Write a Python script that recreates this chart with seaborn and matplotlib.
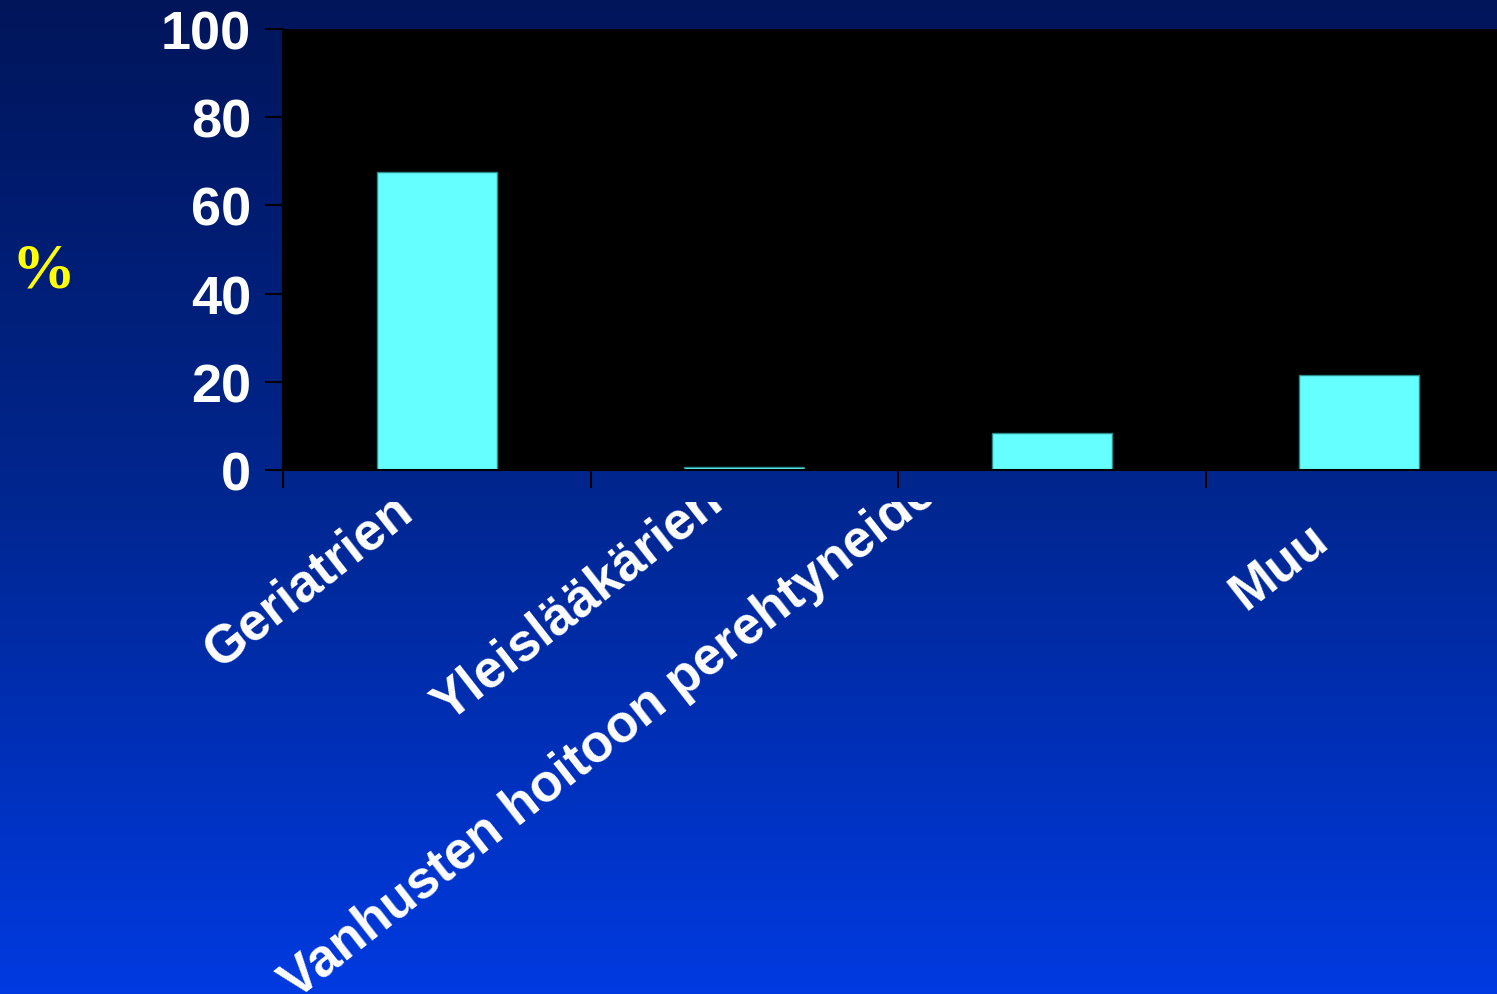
import numpy as np
import pandas as pd
import matplotlib
matplotlib.use("Agg")
import matplotlib.pyplot as plt
import seaborn as sns
from matplotlib.colors import LinearSegmentedColormap
from matplotlib.transforms import Bbox, TransformedBbox

# ---- data ----
categories = ["Geriatrien", "Yleislääkärien", "Vanhusten hoitoon perehtyneiden", "Muu"]
values = [67.6, 0.6, 8.4, 21.5]
y_ticks = [0, 20, 40, 60, 80, 100]
y_label = "%"

sns.set_theme(style="white")
plt.rcParams["font.family"] = ["Liberation Sans", "DejaVu Sans"]

W, H = 1497, 995
fig = plt.figure(figsize=(W / 100, H / 100), dpi=100)

# gradient background
bg = fig.add_axes([0, 0, 1, 1], zorder=-10)
cmap = LinearSegmentedColormap.from_list("bg", ["#00155a", "#00268f", "#003ae0"])
grad = np.linspace(0, 1, 256).reshape(-1, 1)
bg.imshow(grad, aspect="auto", cmap=cmap, extent=[0, 1, 0, 1], origin="upper")
bg.set_axis_off()

ax = fig.add_axes([283 / W, 1 - 471 / H, 1230 / W, 441 / H])
ax.set_facecolor("black")

df = pd.DataFrame({"cat": categories, "val": values})
sns.barplot(data=df, x="cat", y="val", color="#66FFFF", saturation=1,
            width=0.39, edgecolor="#2a8a8a", linewidth=1, ax=ax)

ax.set_xlim(-0.5, 3.5)
ax.set_ylim(0, 100)
ax.set_xticks([-0.5, 0.5, 1.5, 2.5])
ax.set_xticklabels([])
ax.set_yticks(y_ticks)
ax.set_yticklabels([str(v) for v in y_ticks], fontweight="bold")
ax.set_xlabel("")
ax.set_ylabel("")
ax.tick_params(axis="both", length=13, width=1.5, color="black", direction="out",
               left=True, bottom=True)
ax.tick_params(axis="y", labelsize=39, labelcolor="white", pad=10)
for s in ["top", "right"]:
    ax.spines[s].set_visible(False)
for s in ["left", "bottom"]:
    ax.spines[s].set_color("black")
    ax.spines[s].set_linewidth(1.5)

# rotated category labels (clipped just below the axis)
label_pos = [(-0.705, -0.447), (0.036, -0.571), (-0.458, -1.20), (2.63, -0.317)]
clip = TransformedBbox(Bbox([[0, 0], [1, 492 / H]]), fig.transFigure)
for lab, (x, y) in zip(categories, label_pos):
    t = fig.text(x, y, lab, transform=ax.get_xaxis_transform(), rotation=38,
                 rotation_mode="anchor", ha="left", va="baseline",
                 fontsize=38, fontweight="bold", color="white")
    t.set_clip_box(clip)
    t.set_clip_on(True)

fig.text(43 / W, 1 - 273 / H, y_label, ha="center", va="center", color="#FFFF00",
         fontsize=46, fontweight="bold", family=["Liberation Serif", "DejaVu Serif"])

fig.savefig("out.png", dpi=100)
